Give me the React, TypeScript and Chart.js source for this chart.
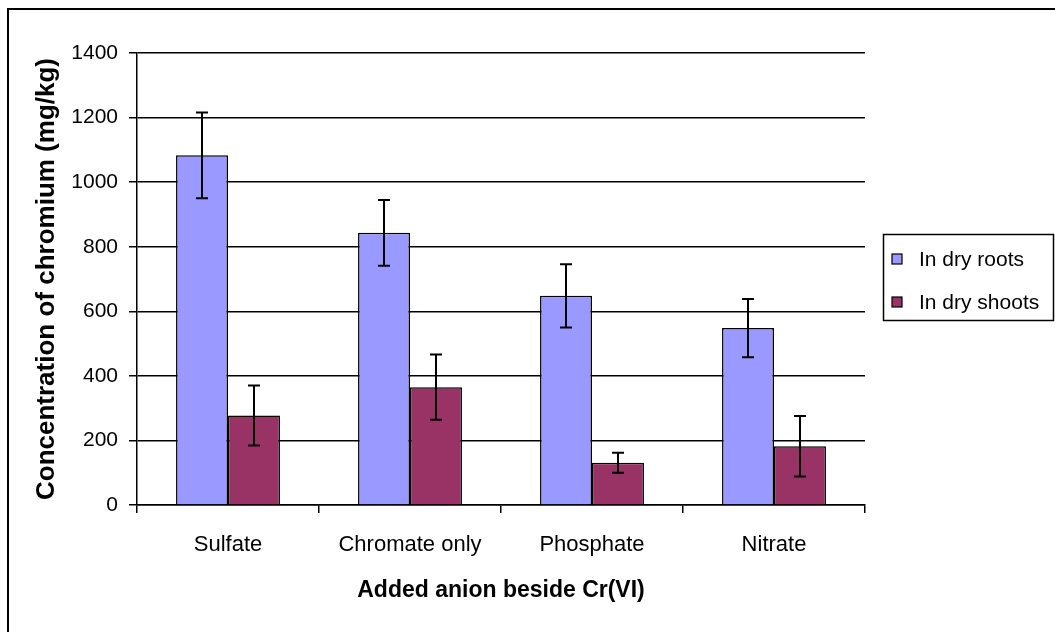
import React, { useEffect, useRef } from "react";
import { Chart, registerables } from "chart.js";

Chart.register(...registerables);

const categories = ["Sulfate", "Chromate only", "Phosphate", "Nitrate"];
const rootsValues = [1083, 843, 648, 548];
const rootsErrors = [133, 102, 98, 90];
const shootsValues = [277, 365, 131, 182];
const shootsErrors = [93, 101, 31, 94];
const seriesLabels = ["In dry roots", "In dry shoots"];
const seriesColors = ["#9999FF", "#993366"];
const yTicks = [0, 200, 400, 600, 800, 1000, 1200, 1400];

const FONT = "'Liberation Sans', Arial, sans-serif";
const W = 1055;
const H = 632;

const errorBarPlugin = {
  id: "errorBars",
  afterDatasetsDraw(chart: any) {
    const ctx = chart.ctx;
    const yScale = chart.scales.y;
    const errs = [rootsErrors, shootsErrors];
    ctx.save();
    ctx.strokeStyle = "#000";
    ctx.lineWidth = 2;
    chart.data.datasets.forEach((ds: any, di: number) => {
      const meta = chart.getDatasetMeta(di);
      meta.data.forEach((bar: any, i: number) => {
        const v = ds.data[i];
        const e = errs[di][i];
        const x = Math.round(bar.x);
        const yTop = yScale.getPixelForValue(v + e);
        const yBot = yScale.getPixelForValue(v - e);
        ctx.beginPath();
        ctx.moveTo(x, yTop);
        ctx.lineTo(x, yBot);
        ctx.moveTo(x - 6, yTop);
        ctx.lineTo(x + 6, yTop);
        ctx.moveTo(x - 6, yBot);
        ctx.lineTo(x + 6, yBot);
        ctx.stroke();
      });
    });
    ctx.restore();
  },
};

const decorPlugin = {
  id: "decor",
  afterDraw(chart: any) {
    const ctx = chart.ctx;
    ctx.save();
    // outer frame (top and left edges visible)
    ctx.strokeStyle = "#000";
    ctx.lineWidth = 2;
    ctx.beginPath();
    ctx.moveTo(8, H);
    ctx.lineTo(8, 9);
    ctx.lineTo(W, 9);
    ctx.stroke();

    // legend box
    const lx = 883;
    const ly = 234;
    const lw = 170;
    const lh = 86;
    ctx.lineWidth = 1.5;
    ctx.strokeRect(lx + 0.5, ly + 0.5, lw, lh);
    ctx.font = `21px ${FONT}`;
    ctx.textBaseline = "middle";
    ctx.textAlign = "left";
    const rows = [259, 302];
    seriesLabels.forEach((label, i) => {
      const cy = rows[i];
      ctx.fillStyle = seriesColors[i];
      ctx.fillRect(892, cy - 5, 10, 10);
      ctx.lineWidth = 1.2;
      ctx.strokeStyle = "#000";
      ctx.strokeRect(892, cy - 5, 10, 10);
      ctx.fillStyle = "#000";
      ctx.fillText(label, 919, cy + 1);
    });
    ctx.restore();
  },
};

export default function App() {
  const ref = useRef<HTMLCanvasElement>(null);

  useEffect(() => {
    if (!ref.current) return;
    const chart = new Chart(ref.current, {
      type: "bar",
      data: {
        labels: categories,
        datasets: [
          {
            label: seriesLabels[0],
            data: rootsValues,
            backgroundColor: seriesColors[0],
            borderColor: "#000",
            borderWidth: 1.5,
            categoryPercentage: 0.571,
            barPercentage: 1.0,
          },
          {
            label: seriesLabels[1],
            data: shootsValues,
            backgroundColor: seriesColors[1],
            borderColor: "#000",
            borderWidth: 1.5,
            categoryPercentage: 0.571,
            barPercentage: 1.0,
          },
        ],
      },
      options: {
        responsive: false,
        animation: false,
        layout: { padding: { left: 0, top: 53, right: 190, bottom: 0 } },
        plugins: {
          legend: { display: false },
          tooltip: { enabled: false },
        },
        scales: {
          x: {
            grid: {
              offset: true,
              drawOnChartArea: false,
              drawTicks: true,
              tickLength: 8,
              color: "#000",
              lineWidth: 1.5,
            },
            border: { display: true, color: "#000", width: 1.5 },
            ticks: {
              color: "#000",
              font: { family: FONT, size: 22 },
              padding: 19,
              maxRotation: 0,
            },
            title: {
              display: true,
              text: "Added anion beside Cr(VI)",
              color: "#000",
              font: { family: FONT, size: 23, weight: "bold" },
              padding: { top: 0, bottom: 28 },
            },
            afterFit: (scale: any) => {
              scale.height = 127;
            },
          },
          y: {
            min: 0,
            max: 1400,
            afterBuildTicks: (scale: any) => {
              scale.ticks = yTicks.map((v) => ({ value: v }));
            },
            grid: {
              color: "#000",
              lineWidth: 1.5,
              drawTicks: true,
              tickLength: 8,
            },
            border: { display: true, color: "#000", width: 1.5 },
            ticks: {
              color: "#000",
              font: { family: FONT, size: 21 },
              padding: 11,
              callback: (v: any) => String(v),
            },
            title: {
              display: true,
              text: "Concentration of chromium (mg/kg)",
              color: "#000",
              font: { family: FONT, size: 26, weight: "bold" },
              padding: { top: 31, bottom: 0 },
            },
            afterFit: (scale: any) => {
              scale.width = 137;
            },
          },
        },
      },
      plugins: [errorBarPlugin, decorPlugin],
    });
    return () => chart.destroy();
  }, []);

  return (
    <div
      style={{
        position: "fixed",
        left: 0,
        top: 0,
        width: W,
        height: H,
        background: "#fff",
      }}
    >
      <canvas ref={ref} width={W} height={H} style={{ display: "block" }} />
    </div>
  );
}
